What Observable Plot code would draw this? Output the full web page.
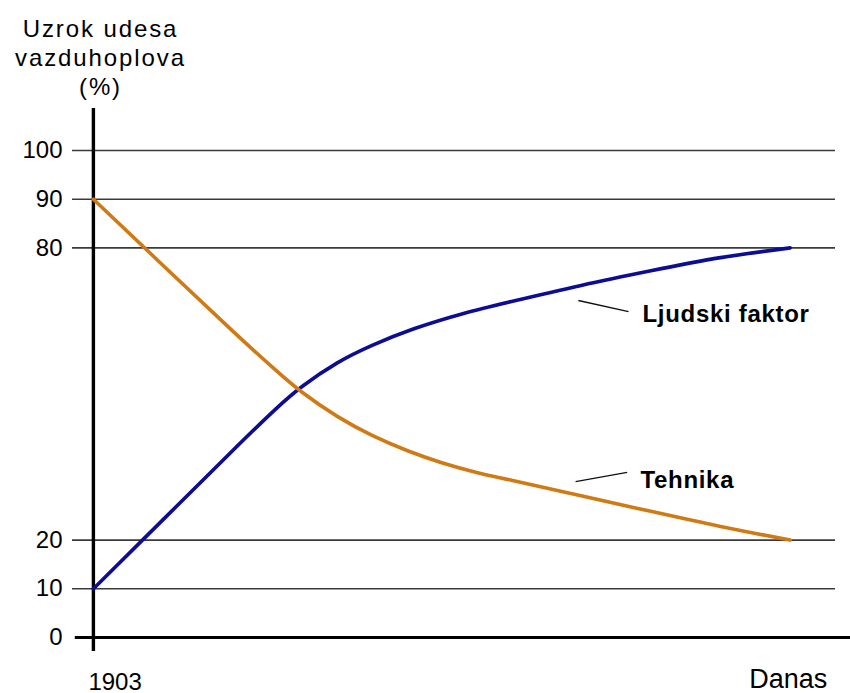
<!DOCTYPE html>
<html>
<head>
<meta charset="utf-8">
<script src="https://cdn.jsdelivr.net/npm/d3@7"></script>
<script src="https://cdn.jsdelivr.net/npm/@observablehq/plot@0.6"></script>
<style>
  html, body { margin: 0; padding: 0; background: #fff; }
  #chart svg { display: block; }
</style>
</head>
<body>
<div id="chart"></div>
<script>
// ---- data ----
const yTicks = [0, 10, 20, 80, 90, 100];
const gridValues = [10, 20, 80, 90, 100];
const xTickPos = [0, 100];
const xTickLabels = ["1903", "Danas"];

// x: position along time (0 = 1903, 100 = Danas), y: percent of accidents
const ljudskiX = [0, 10, 20, 26, 30, 35, 40, 46, 53, 60, 70, 80, 90, 100];
const ljudskiY = [10, 24.2, 38.4, 46.7, 51.6, 56.4, 60.0, 63.4, 66.5, 69.0, 72.3, 75.3, 78.0, 80];
const tehnikaX = [0, 10, 20, 26, 30, 35, 40, 45, 50, 55, 60, 70, 80, 90, 100];
const tehnikaY = [90, 76.4, 62.9, 55.1, 50.3, 45.4, 41.5, 38.4, 35.9, 33.9, 32.3, 29.1, 25.9, 22.8, 20];

const seriesNames = ["Ljudski faktor", "Tehnika"];
const labelX = [78.8, 78.5];
const labelY = [66.4, 32.3];
const leaderX1 = [69.6, 69.2];
const leaderY1 = [69.2, 32.0];
const leaderX2 = [76.8, 76.6];
const leaderY2 = [66.9, 33.9];

const titleText = "Uzrok udesa\nvazduhoplova\n(%)";

// ---- build tables ----
const ljudski = ljudskiX.map((x, i) => ({x, y: ljudskiY[i]}));
const tehnika = tehnikaX.map((x, i) => ({x, y: tehnikaY[i]}));
const labels = seriesNames.map((name, i) => ({
  name, x: labelX[i], y: labelY[i],
  x1: leaderX1[i], y1: leaderY1[i], x2: leaderX2[i], y2: leaderY2[i]
}));
const xLabels = xTickPos.map((x, i) => ({x, text: xTickLabels[i]}));

const FONT = "'Liberation Sans', Arial, Helvetica, sans-serif";

const chart = Plot.plot({
  width: 850,
  height: 693,
  marginLeft: 72,
  marginRight: 15,
  marginTop: 150,
  marginBottom: 56,
  style: {fontFamily: FONT, background: "#fff", color: "#000", overflow: "visible"},
  x: {domain: [-3, 106.5], axis: null},
  y: {domain: [0, 100]},
  marks: [
    // horizontal gridlines
    Plot.ruleY(gridValues, {x1: -3, x2: 106.5, stroke: "#3a3a3a", strokeWidth: 1.6}),
    // x axis baseline
    Plot.ruleY([0], {x1: -2.6, x2: 108.7, stroke: "#000", strokeWidth: 3.2}),
    // y axis line
    Plot.ruleX([0], {y1: -2.9, y2: 108.6, stroke: "#000", strokeWidth: 3.4}),
    // y tick labels
    Plot.axisY({ticks: yTicks, tickSize: 0, tickPadding: 10, fontSize: 24, label: null, fill: "#000"}),
    // series
    Plot.line(ljudski, {x: "x", y: "y", stroke: "#0c0c94", strokeWidth: 3.6, curve: "natural"}),
    Plot.line(tehnika, {x: "x", y: "y", stroke: "#cf7a14", strokeWidth: 3.6, curve: "natural"}),
    // leaders and labels
    Plot.link(labels, {x1: "x1", y1: "y1", x2: "x2", y2: "y2", stroke: "#111", strokeWidth: 1.3}),
    Plot.text(labels, {x: "x", y: "y", text: "name", textAnchor: "start", lineAnchor: "middle",
      fontSize: 24, fontWeight: "bold", fill: "#000", ariaDescription: "series-label"}),
    // x labels
    Plot.text(xLabels.slice(0, 1), {x: "x", text: "text", frameAnchor: "bottom", lineAnchor: "bottom",
      textAnchor: "start", dx: -5, dy: 52, fontSize: 24, fill: "#000"}),
    Plot.text(xLabels.slice(1), {x: "x", text: "text", frameAnchor: "bottom", lineAnchor: "bottom",
      textAnchor: "middle", dx: -2, dy: 50, fontSize: 27, fill: "#000"}),
    // axis title
    Plot.text([titleText], {frameAnchor: "top-left", text: d => d, textAnchor: "middle",
      lineAnchor: "top", dx: 28, dy: -134, fontSize: 24, lineHeight: 1.2, fill: "#000",
      ariaDescription: "axis-title"})
  ]
});
d3.select(chart).selectAll("g[aria-description='axis-title'] text").style("letter-spacing", "1.9px");
d3.select(chart).selectAll("g[aria-description='series-label'] text").style("letter-spacing", "0.7px");
document.getElementById("chart").append(chart);
</script>
</body>
</html>
